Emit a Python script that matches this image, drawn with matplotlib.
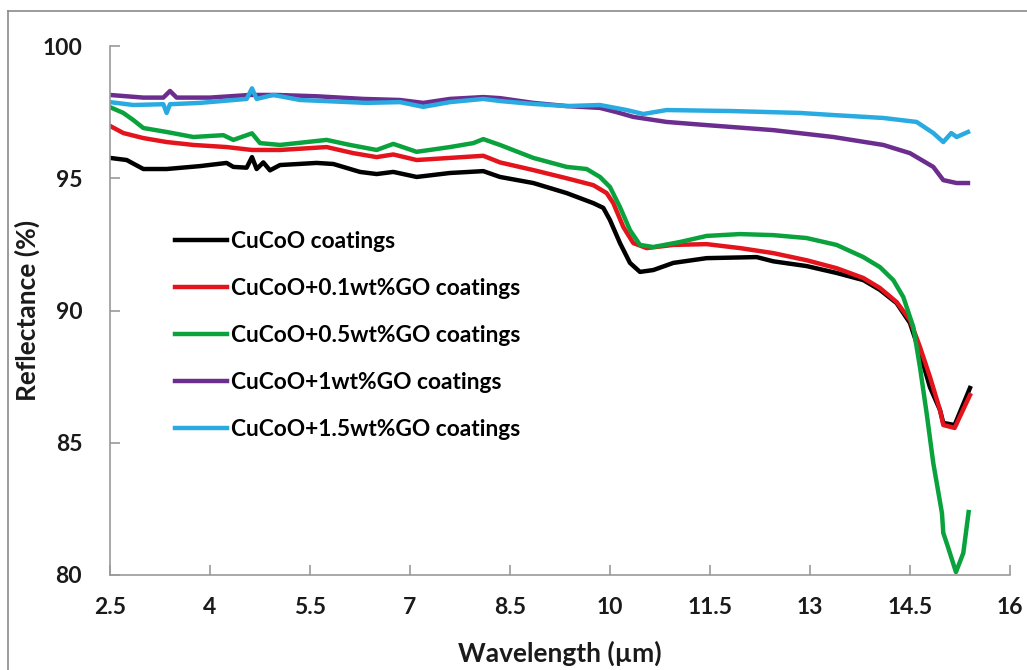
import matplotlib
matplotlib.use("Agg")
import matplotlib.pyplot as plt
from matplotlib.lines import Line2D
import numpy as np

plt.rcParams['font.family'] = ['Lato', 'DejaVu Sans']
plt.rcParams['font.weight'] = 'bold'

# wavelength (um) / reflectance (%)
wl_cucoo = [2.5, 2.75, 3.0, 3.35, 3.85, 4.25, 4.35, 4.55, 4.63, 4.7, 4.8, 4.9, 5.05, 5.6, 5.85,
            6.25, 6.5, 6.75, 7.1, 7.6, 8.1, 8.35, 8.85, 9.35, 9.75, 9.9, 10.0, 10.15, 10.3,
            10.45, 10.65, 10.95, 11.45, 12.2, 12.45, 12.95, 13.4, 13.8, 14.05, 14.3, 14.5,
            14.65, 14.8, 14.95, 15.0, 15.17, 15.4]
r_cucoo = [95.77, 95.69, 95.35, 95.35, 95.46, 95.58, 95.43, 95.4, 95.8, 95.35, 95.6, 95.3, 95.5,
           95.58, 95.54, 95.24, 95.16, 95.24, 95.05, 95.2, 95.27, 95.05, 94.82, 94.44, 94.06,
           93.88, 93.42, 92.55, 91.8, 91.46, 91.53, 91.8, 91.98, 92.02, 91.86, 91.68, 91.42,
           91.15, 90.78, 90.28, 89.53, 88.39, 87.1, 86.24, 85.75, 85.67, 87.07]

wl_go01 = [2.5, 2.7, 3.0, 3.35, 3.75, 4.25, 4.63, 5.05, 5.75, 6.15, 6.5, 6.75, 7.1, 7.6, 8.1,
           8.35, 8.85, 9.35, 9.75, 9.95, 10.05, 10.2, 10.35, 10.55, 10.95, 11.45, 11.95,
           12.45, 12.95, 13.4, 13.8, 14.05, 14.3, 14.5, 14.65, 14.8, 14.95, 15.0, 15.17, 15.4]
r_go01 = [96.98, 96.71, 96.52, 96.37, 96.26, 96.18, 96.07, 96.07, 96.18, 95.95, 95.8, 95.9,
          95.69, 95.77, 95.85, 95.6, 95.31, 95.0, 94.74, 94.44, 94.06, 93.16, 92.55, 92.36,
          92.48, 92.51, 92.36, 92.17, 91.9, 91.6, 91.23, 90.85, 90.32, 89.64, 88.62, 87.49,
          86.24, 85.67, 85.56, 86.8]

wl_go05 = [2.5, 2.7, 2.85, 3.0, 3.35, 3.75, 4.2, 4.35, 4.63, 4.75, 5.05, 5.75, 6.1, 6.5, 6.75,
           7.1, 7.6, 7.95, 8.1, 8.35, 8.85, 9.35, 9.65, 9.85, 10.0, 10.15, 10.3, 10.45, 10.65,
           11.05, 11.45, 11.95, 12.45, 12.95, 13.4, 13.8, 14.05, 14.25, 14.4, 14.55, 14.65,
           14.75, 14.85, 14.98, 15.0, 15.07, 15.19, 15.3, 15.38]
r_go05 = [97.69, 97.47, 97.2, 96.9, 96.75, 96.56, 96.63, 96.45, 96.7, 96.33, 96.26, 96.45,
          96.26, 96.07, 96.3, 96.0, 96.18, 96.33, 96.48, 96.26, 95.77, 95.43, 95.35, 95.05,
          94.67, 93.91, 93.04, 92.48, 92.4, 92.59, 92.82, 92.89, 92.85, 92.74, 92.48, 92.02,
          91.64, 91.15, 90.51, 89.38, 87.86, 86.12, 84.23, 82.34, 81.59, 81.06, 80.11, 80.83,
          82.38]

wl_go1 = [2.5, 3.0, 3.3, 3.4, 3.5, 4.0, 4.6, 5.0, 5.6, 6.3, 6.85, 7.2, 7.6, 8.1, 8.35, 8.85,
          9.35, 9.85, 10.1, 10.35, 10.85, 11.45, 12.45, 13.35, 14.1, 14.5, 14.85, 15.0, 15.2,
          15.37]
r_go1 = [98.15, 98.05, 98.05, 98.3, 98.05, 98.05, 98.15, 98.15, 98.1, 98.0, 97.96, 97.85, 98.0,
         98.07, 98.03, 97.85, 97.73, 97.66, 97.5, 97.32, 97.13, 97.01, 96.82, 96.56, 96.26,
         95.95, 95.43, 94.93, 94.82, 94.82]

wl_go15 = [2.5, 2.85, 3.3, 3.35, 3.4, 3.85, 4.55, 4.63, 4.7, 4.95, 5.35, 6.35, 6.85, 7.2, 7.6,
           8.1, 8.35, 8.85, 9.35, 9.85, 10.25, 10.5, 10.85, 11.85, 12.85, 13.35, 14.1, 14.6,
           14.85, 15.0, 15.12, 15.2, 15.37]
r_go15 = [97.88, 97.77, 97.8, 97.47, 97.8, 97.85, 98.0, 98.4, 98.0, 98.15, 97.96, 97.85, 97.88,
          97.7, 97.88, 98.0, 97.92, 97.81, 97.73, 97.77, 97.58, 97.43, 97.58, 97.54, 97.47,
          97.39, 97.28, 97.13, 96.71, 96.37, 96.71, 96.56, 96.75]

labels = ["CuCoO coatings", "CuCoO+0.1wt%GO coatings", "CuCoO+0.5wt%GO coatings",
          "CuCoO+1wt%GO coatings", "CuCoO+1.5wt%GO coatings"]
colors = ["#000000", "#E3141C", "#0AA23C", "#6B2D8E", "#29ABE2"]
series = [(wl_cucoo, r_cucoo), (wl_go01, r_go01), (wl_go05, r_go05),
          (wl_go1, r_go1), (wl_go15, r_go15)]

fig = plt.figure(figsize=(10.27, 6.70), dpi=100)
ax = fig.add_axes([0.1071, 0.1418, 0.8763, 0.7895])

for (x, y), c, lab in zip(series, colors, labels):
    ax.plot(x, y, color=c, lw=3.2, label=lab, solid_joinstyle='round')

ax.set_xlim(2.5, 16)
ax.set_ylim(80, 100)
ax.set_xticks(np.arange(2.5, 16.01, 1.5))
ax.set_xticklabels(["2.5", "4", "5.5", "7", "8.5", "10", "11.5", "13", "14.5", "16"])
ax.set_yticks([80, 85, 90, 95, 100])

for s in ["top", "right"]:
    ax.spines[s].set_visible(False)
for s in ["left", "bottom"]:
    ax.spines[s].set_color("#9A9A9A")
    ax.spines[s].set_linewidth(1.2)
ax.tick_params(direction="in", length=7, width=1.2, color="#9A9A9A",
               labelsize=16.5, labelcolor="#1a1a1a")
ax.tick_params(axis="x", pad=16)
ax.tick_params(axis="y", pad=20)
for t in ax.get_xticklabels() + ax.get_yticklabels():
    t.set_fontweight("bold")

ax.set_xlabel("Wavelength (µm)", fontsize=19, fontweight="bold", color="#1a1a1a", labelpad=16)
ax.set_ylabel("Reflectance (%)", fontsize=19, fontweight="bold", color="#1a1a1a", labelpad=2)

ax.legend(loc="upper left", bbox_to_anchor=(0.072, 0.651), frameon=False,
          prop={"size": 16.4, "weight": "bold"}, handlelength=2.3, handletextpad=0.18,
          labelspacing=1.14, borderaxespad=0, borderpad=0)

# thin outer frame on the left and top
fig.add_artist(Line2D([8 / 1027, 8 / 1027], [0, 1 - 11 / 670], color="#8A8A8A", lw=1.2))
fig.add_artist(Line2D([8 / 1027, 1], [1 - 11 / 670, 1 - 11 / 670], color="#8A8A8A", lw=1.2))

fig.savefig("out.png", dpi=100)
